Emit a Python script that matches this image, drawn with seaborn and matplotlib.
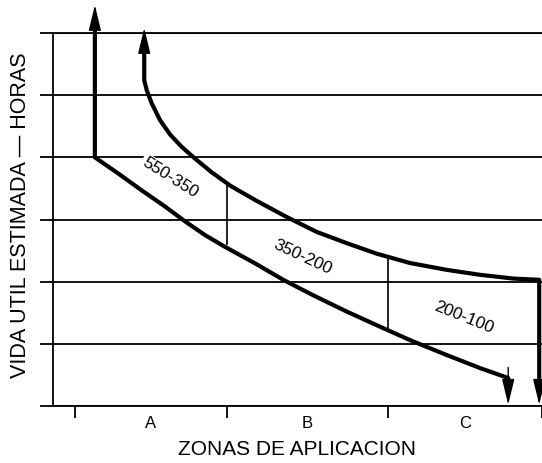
import numpy as np
import pandas as pd
import seaborn as sns
import matplotlib.pyplot as plt

# zonas de aplicacion y niveles de horas (sin escala numerica en el original)
zones = ['A', 'B', 'C']
zone_edges = [0.0, 0.976, 2.013, 3.0]
hour_levels = [0, 1, 2, 3, 4, 5, 6]
zone_ranges = ['550-350', '350-200', '200-100']

# curva inferior
lower_x = [0.128, 0.278, 0.428, 0.578, 0.707, 0.835, 0.964, 1.167, 1.338, 1.531,
           1.745, 1.938, 2.152, 2.388, 2.602, 2.783]
lower_y = [4.00, 3.74, 3.47, 3.21, 2.97, 2.75, 2.56, 2.28, 2.03, 1.78,
           1.52, 1.30, 1.06, 0.82, 0.61, 0.45]

# curva superior
upper_x = [0.445, 0.461, 0.493, 0.546, 0.610, 0.685, 0.771, 0.878, 1.000, 1.167,
           1.360, 1.553, 1.745, 1.938, 2.152, 2.388, 2.602, 2.816, 2.982]
upper_y = [5.24, 5.08, 4.87, 4.60, 4.37, 4.17, 3.98, 3.76, 3.54, 3.30,
           3.04, 2.80, 2.62, 2.45, 2.30, 2.19, 2.11, 2.05, 2.03]

# puntas de flecha (arriba / abajo) para cada curva
top_tip = [6.45, 6.08]
bottom_tip = [0.02, 0.02]

# separaciones entre zonas, de la curva inferior a la superior
sep_bottom = [2.59, 1.22]
sep_top = [3.60, 2.38]

sns.set_theme(style='white')
plt.rcParams['font.family'] = ['Liberation Sans', 'DejaVu Sans']

fig = plt.figure(figsize=(5.42, 4.63), dpi=100)
ax = fig.add_axes([53 / 542, 57 / 463, 489 / 542, 373 / 463])


def draw_arrow(x, start, tip):
    ax.annotate('', xy=(x, tip), xytext=(x, start),
                arrowprops=dict(arrowstyle='-|>,head_length=1.0,head_width=0.24',
                                mutation_scale=16, lw=1, color='black',
                                shrinkA=0, shrinkB=0),
                annotation_clip=False)


def curve_with_arrows(xs, ys, tip_up, tip_down):
    head = 0.3
    px = [xs[0]] + list(xs) + [xs[-1]]
    py = [tip_up - head] + list(ys) + [tip_down + head]
    df = pd.DataFrame({'x': px, 'y': py})
    sns.lineplot(data=df, x='x', y='y', sort=False, estimator=None, color='black',
                 lw=3, ax=ax, solid_joinstyle='round', solid_capstyle='butt')
    draw_arrow(xs[0], tip_up - 0.6, tip_up)
    draw_arrow(xs[-1], tip_down + 0.6, tip_down)


curve_with_arrows(lower_x, lower_y, top_tip[0], bottom_tip[0])
curve_with_arrows(upper_x, upper_y, top_tip[1], bottom_tip[1])
for line in ax.lines:
    line.set_clip_on(False)
    line.set_zorder(4)

ax.vlines(zone_edges[1:3], sep_bottom, sep_top, color='black', lw=1.2, zorder=2)

label_x = [0.61, 1.465, 2.50]
label_y = [3.667, 2.397, 1.415]
label_rot = [-32, -25, -22]
for i, txt in enumerate(zone_ranges):
    kw = {}
    if i == 0:
        kw['bbox'] = dict(facecolor='white', edgecolor='none', pad=1.5)
    ax.text(label_x[i], label_y[i], txt, rotation=label_rot[i], rotation_mode='anchor',
            ha='center', va='center', fontsize=12.3, color='black', zorder=3, **kw)

ax.set_xlim(-0.141, 3.0)
ax.set_ylim(0, 6)
ax.set_yticks(hour_levels)
ax.set_yticklabels([])
ax.grid(axis='y', color='black', lw=1.3)
ax.grid(axis='x', visible=False)
ax.tick_params(axis='y', direction='out', length=9.4, width=1.3, color='black', left=True)

ax.set_xticks(zone_edges)
ax.set_xticklabels([])
mids = [(zone_edges[i] + zone_edges[i + 1]) / 2 for i in range(3)]
ax.set_xticks(mids, minor=True)
ax.set_xticklabels(zones, minor=True)
ax.tick_params(axis='x', which='major', direction='out', length=8.6, width=1.3,
               color='black', bottom=True)
ax.tick_params(axis='x', which='minor', length=0, pad=7.5, labelsize=12, labelcolor='black',
               bottom=True)

for s in ['left', 'bottom', 'top']:
    ax.spines[s].set_visible(True)
    ax.spines[s].set_color('black')
    ax.spines[s].set_linewidth(1.3)
ax.spines['right'].set_visible(False)

ax.set_xlabel('ZONAS DE APLICACION', fontsize=15, color='black', labelpad=6)
ax.set_ylabel('VIDA UTIL ESTIMADA — HORAS', fontsize=15.5, color='black')
ax.yaxis.set_label_coords(-0.046, 0.512)

fig.savefig('out.png', dpi=100)
